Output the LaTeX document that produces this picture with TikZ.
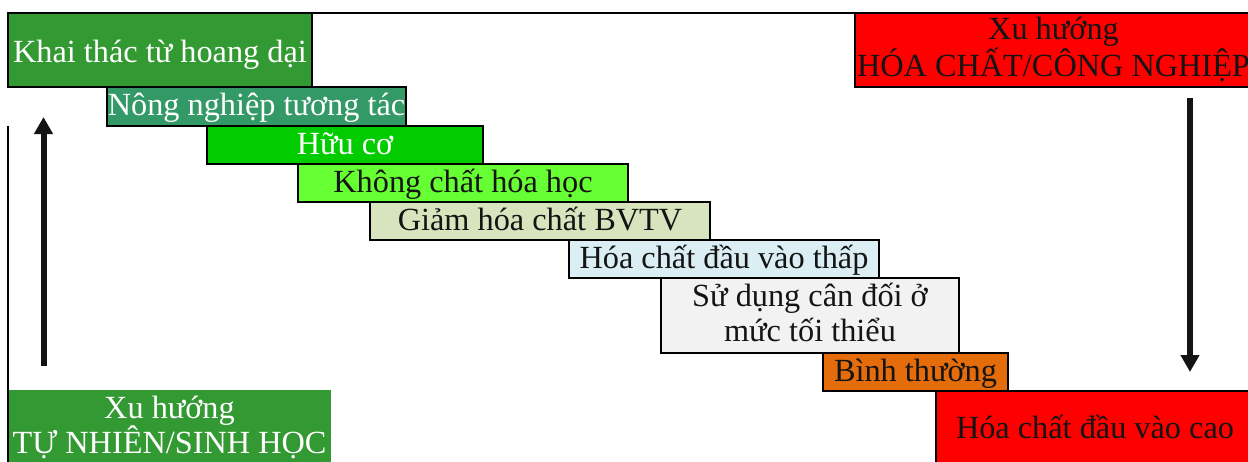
\documentclass[tikz,border=0pt]{standalone}
\usepackage{fontspec}
\setmainfont{Liberation Serif}
\usetikzlibrary{arrows.meta}
\definecolor{cKhai}{HTML}{339933}
\definecolor{cNong}{HTML}{339966}
\definecolor{cHuu}{HTML}{00CC00}
\definecolor{cKhong}{HTML}{66FF33}
\definecolor{cGiam}{HTML}{D7E4BD}
\definecolor{cThap}{HTML}{DAEEF3}
\definecolor{cSu}{HTML}{F2F2F2}
\definecolor{cBinh}{HTML}{E46C0A}
\definecolor{cRed}{HTML}{FF0000}
\definecolor{cTxt}{HTML}{141414}
\newcommand{\bfnt}{\fontsize{32.3}{35.5}\selectfont}
\newcommand{\lstr}{\rule[-6pt]{0pt}{26pt}}
\begin{document}
\begin{tikzpicture}[x=1pt,y=-1pt,
  box/.style={draw=black, line width=2.8pt, inner sep=0pt, outer sep=0pt,
    anchor=north west, font=\bfnt, text=cTxt},
  oneline/.style={text height=24pt, text depth=6pt},
  twoline/.style={align=center},
  whitetxt/.style={text=white},
  framel/.style={draw=black, line width=2.2pt},
  bigarrow/.style={draw=cTxt, line width=6pt, -{Triangle[length=17pt,width=18pt]}}]
\useasboundingbox (0,0) rectangle (1248,461);
\clip (0,0) rectangle (1248,461);
\node[box, whitetxt, fill=cKhai, minimum width=304pt, minimum height=74pt,
  text height=24pt, text depth=0pt] (khai) at (8,13) {Khai thác từ hoang dại};
\node[box, whitetxt, oneline, fill=cNong, minimum width=299pt, minimum height=39pt] (nong) at (107,87) {Nông nghiệp tương tác};
\node[box, whitetxt, oneline, fill=cHuu, minimum width=276pt, minimum height=38pt] (huu) at (207,126) {Hữu cơ};
\node[box, oneline, fill=cKhong, minimum width=330pt, minimum height=38pt] (khong) at (298,164) {Không chất hóa học};
\node[box, oneline, fill=cGiam, minimum width=340pt, minimum height=38pt] (giam) at (370,202) {Giảm hóa chất BVTV};
\node[box, oneline, fill=cThap, minimum width=310pt, minimum height=38pt] (thap) at (569,240) {Hóa chất đầu vào thấp};
\node[box, twoline, fill=cSu, minimum width=298pt, minimum height=75pt] (sudung) at (661,278) {\lstr Sử dụng cân đối ở\\\lstr mức tối thiểu};
\node[box, oneline, fill=cBinh, minimum width=185pt, minimum height=38pt] (binh) at (823,353) {Bình thường};
\node[box, oneline, fill=cRed, minimum width=318pt, minimum height=76pt] (cao) at (936,391) {Hóa chất đầu vào cao};
\node[box, twoline, fill=cRed, minimum width=397pt, minimum height=74pt] (hoachat) at (855,13) {\lstr Xu hướng\\\lstr HÓA CHẤT/CÔNG NGHIỆP};
\node[box, twoline, whitetxt, draw=none, fill=cKhai, minimum width=323pt, minimum height=76pt] (tunhien) at (8,390) {\lstr Xu hướng\\\lstr TỰ NHIÊN/SINH HỌC};
\coordinate (tlA) at (8,13);
\coordinate (tlB) at (1250,13);
\coordinate (llA) at (8,126);
\coordinate (llB) at (8,463);
\draw[framel] (tlA) -- (tlB);
\draw[framel] (llA) -- (llB);
\coordinate (upS) at (43.5,366);
\coordinate (upE) at (43.5,117);
\coordinate (dnS) at (1190,98);
\coordinate (dnE) at (1190,372);
\draw[bigarrow] (upS) -- (upE);
\draw[bigarrow] (dnS) -- (dnE);
\end{tikzpicture}
\end{document}
